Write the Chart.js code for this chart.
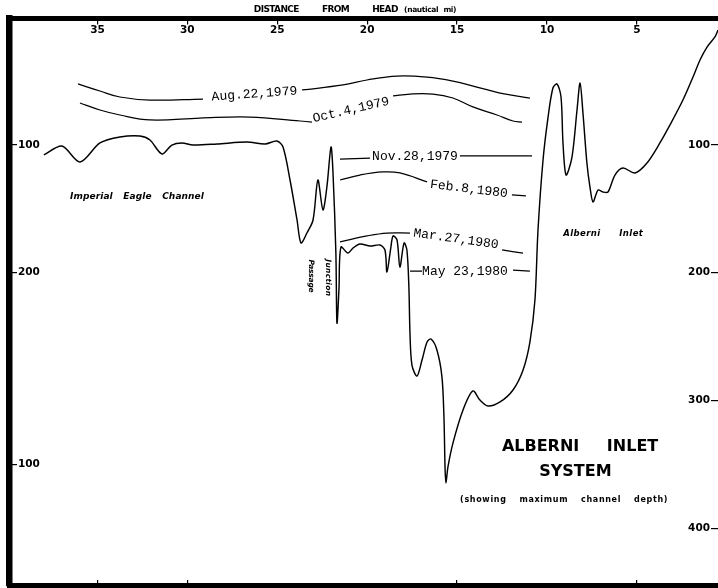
<!DOCTYPE html>
<html>
<head>
<meta charset="utf-8">
<script src="https://cdn.jsdelivr.net/npm/chart.js@4.4.1/dist/chart.umd.min.js"></script>
<style>
html,body{margin:0;padding:0;background:#fff;}
#wrap{width:718px;height:588px;position:relative;}
</style>
</head>
<body>
<div id="wrap"><canvas id="c"></canvas></div>
<script>
// ---- tick labels ----
const xTickValues = [35, 30, 25, 20, 15, 10, 5];
const bottomTickValues = [35, 30, 15, 5];
const leftTickValues = [100, 200, 350];
const leftTickLabels = ['100', '200', '100'];
const rightTickValues = [100, 200, 300, 400];

// ---- maximum channel depth profile (distance from head, nmi / depth) ----
const profileDist = [37.98,36.97,35.97,34.86,33.75,32.64,32.08,31.41,30.86,30.30,29.69,28.35,26.69,25.68,25.02,24.68,24.29,23.90,23.68,23.35,23.01,22.74,22.46,22.24,22.01,21.90,21.74,21.68,21.57,21.46,21.07,20.79,20.40,19.84,19.29,19.01,18.90,18.68,18.56,18.34,18.18,17.95,17.79,17.68,17.62,17.51,17.23,16.95,16.67,16.45,16.12,15.84,15.73,15.67,15.62,15.51,15.23,14.67,14.12,13.73,13.28,12.61,11.89,11.33,10.95,10.67,10.50,10.22,9.94,9.67,9.44,9.22,9.11,8.94,8.61,8.33,8.16,8.00,7.78,7.61,7.44,7.16,6.89,6.61,6.22,5.77,5.11,4.44,3.72,3.16,2.44,1.88,1.49,1.10,0.66,0.49];
const profileDepth = [107.8,100.8,113.3,98.4,93.7,92.9,96.1,107.0,100.0,98.4,100.0,99.2,97.7,99.2,96.9,101.6,127.4,158.7,176.7,168.9,158.7,127.4,150.9,132.9,101.6,121.9,184.6,239.4,213.5,179.9,184.6,180.7,177.5,179.1,178.3,182.2,199.4,179.9,171.2,174.4,195.5,176.7,182.2,211.2,247.2,272.3,280.9,268.4,254.3,251.9,260.5,281.7,313.0,352.2,364.7,352.2,333.4,307.5,292.6,299.7,304.4,301.2,291.8,276.1,254.3,221.4,166.6,111.7,78.1,55.4,52.2,62.4,98.4,123.5,109.4,72.6,51.5,74.9,114.1,132.9,144.6,135.2,136.8,136.8,123.5,118.0,121.9,114.1,98.4,84.3,64.8,46.8,33.4,23.3,15.4,9.9];

// ---- dated lines (null = gap where the date is written) ----
const aug22Dist  = [36.08,34.86,33.75,32.08,29.13,26.4,23.62,21.34,20.01,18.34,16.67,15.23,13.90,12.61,10.95];
const aug22Depth = [52.2,57.7,62.4,64.8,64.0,null,56.9,53.0,49.1,46.0,46.8,49.9,54.6,59.3,63.2];
const oct4Dist   = [35.97,34.86,33.75,32.08,29.30,26.52,23.73,23.07,20.8,18.56,17.62,16.34,15.23,14.12,12.78,11.89,11.39];
const oct4Depth  = [67.1,72.6,76.5,80.4,78.9,78.1,81.2,82.0,null,61.6,60.1,60.1,63.2,70.2,76.5,81.2,82.0];
const nov28Dist  = [21.51,19.84,17.3,14.84,10.83];
const nov28Depth = [111.0,110.2,null,108.6,108.6];
const feb8Dist   = [21.51,20.40,19.12,18.18,16.67,14.3,11.95,11.17];
const feb8Depth  = [127.4,123.5,121.1,121.9,128.9,null,139.1,139.9];
const mar27Dist  = [21.51,20.01,18.90,17.62,15.0,12.50,11.33];
const mar27Depth = [175.9,171.2,168.9,168.9,null,182.2,184.6];
const may23Dist  = [17.62,16.95,14.4,11.89,10.95];
const may23Depth = [198.7,198.7,null,197.9,198.7];

// ---- text annotations ----
const SANS = '"DejaVu Sans"';
const notes = [
  {text:'DISTANCE  FROM  HEAD', d:22.3, z:-5.8, font:'bold 9px '+SANS, w:144, ws:9},
  {text:'(nautical mi)', d:16.5, z:-5.8, font:'bold 7.5px '+SANS, w:52, ws:3},
  {text:'Aug.22,1979', d:26.27, z:60.1, rot:-4, font:'13px "Liberation Mono"'},
  {text:'Oct.4,1979', d:20.90, z:72.6, rot:-13, font:'13px "Liberation Mono"'},
  {text:'Nov.28,1979', d:17.34, z:109.4, rot:0, font:'13px "Liberation Mono"'},
  {text:'Feb.8,1980', d:14.34, z:134.5, rot:7, font:'13px "Liberation Mono"'},
  {text:'Mar.27,1980', d:15.06, z:173.6, rot:8, font:'13px "Liberation Mono"'},
  {text:'May 23,1980', d:14.56, z:198.7, rot:0, font:'13px "Liberation Mono"'},
  {text:'Imperial  Eagle  Channel', d:32.8, z:140.7, font:'italic bold 9px '+SANS, w:134, ws:2},
  {text:'Junction', d:22.2, z:204, rot:90, font:'italic bold 7.5px '+SANS, w:37},
  {text:'Passage', d:23.13, z:202.5, rot:90, font:'italic bold 7.5px '+SANS, w:33},
  {text:'Alberni  Inlet', d:6.87, z:169.7, font:'italic bold 8.5px '+SANS, w:80, ws:6},
  {text:'ALBERNI INLET', d:8.16, z:336.5, font:'bold 16px '+SANS, ws:22},
  {text:'SYSTEM', d:8.42, z:356.1, font:'bold 16px '+SANS},
  {text:'(showing  maximum  channel  depth)', d:9.05, z:378.0, font:'bold 8px '+SANS, w:208, ws:3}
];

function pts(dist, depth){ return dist.map((d,i)=>({x:d, y:depth[i]})); }
function dateLine(dist, depth){
  return {data:pts(dist, depth), borderColor:'#000', borderWidth:1.25, pointRadius:0, tension:0.4, fill:false, spanGaps:false};
}

const notePlugin = {
  id:'notes',
  afterDraw(chart){
    const ctx = chart.ctx, xs = chart.scales.x, ys = chart.scales.y;
    ctx.save();
    ctx.fillStyle = '#000';
    for (const n of notes){
      const px = xs.getPixelForValue(n.d);
      const py = ys.getPixelForValue(n.z);
      ctx.save();
      ctx.font = n.font;
      ctx.letterSpacing = '0px';
      ctx.wordSpacing = (n.ws || 0) + 'px';
      if (n.w){
        const m = ctx.measureText(n.text).width;
        ctx.letterSpacing = ((n.w - m) / n.text.length) + 'px';
      }
      ctx.translate(px, py);
      ctx.rotate((n.rot || 0) * Math.PI / 180);
      ctx.textAlign = 'center';
      ctx.textBaseline = 'middle';
      ctx.fillText(n.text, 0, 0);
      ctx.restore();
    }
    ctx.restore();
  }
};

const X_MIN = 0.49, X_MAX = 39.89, Y_MIN = 0.94, Y_MAX = 445.3;
const tickFont = {family:'DejaVu Sans', weight:'bold', size:10.5};
function noPad(s){ s.paddingTop = 0; s.paddingBottom = 0; s.paddingLeft = 0; s.paddingRight = 0; }

new Chart(document.getElementById('c'), {
  type:'line',
  data:{
    datasets:[
      {data:pts(profileDist, profileDepth), borderColor:'#000', borderWidth:1.45, pointRadius:0, tension:0.3, fill:false},
      dateLine(aug22Dist, aug22Depth),
      dateLine(oct4Dist, oct4Depth),
      dateLine(nov28Dist, nov28Depth),
      dateLine(feb8Dist, feb8Depth),
      dateLine(mar27Dist, mar27Depth),
      dateLine(may23Dist, may23Depth)
    ]
  },
  options:{
    responsive:true, maintainAspectRatio:false, animation:false,
    layout:{padding:0},
    plugins:{legend:{display:false}, tooltip:{enabled:false}},
    scales:{
      x:{
        type:'linear', position:'top', reverse:true, min:X_MIN, max:X_MAX,
        afterFit(s){ s.height = 18.5; noPad(s); },
        afterBuildTicks(s){ s.ticks = xTickValues.map(v=>({value:v})); },
        grid:{drawOnChartArea:false, drawTicks:true, tickLength:-6, color:'#000', lineWidth:1.2},
        border:{display:true, color:'#000', width:5},
        ticks:{color:'#000', font:tickFont, mirror:true, padding:5.3, maxRotation:0, autoSkip:false}
      },
      x2:{
        type:'linear', position:'bottom', reverse:true, min:X_MIN, max:X_MAX,
        afterFit(s){ s.height = 2; noPad(s); },
        afterBuildTicks(s){ s.ticks = bottomTickValues.map(v=>({value:v})); },
        grid:{drawOnChartArea:false, drawTicks:true, tickLength:-6, color:'#000', lineWidth:1.2},
        border:{display:true, color:'#000', width:6},
        ticks:{display:false}
      },
      y:{
        type:'linear', position:'left', reverse:true, min:Y_MIN, max:Y_MAX,
        afterFit(s){ s.width = 9.5; noPad(s); },
        afterBuildTicks(s){ s.ticks = leftTickValues.map(v=>({value:v})); },
        grid:{drawOnChartArea:false, drawTicks:true, tickLength:-7.5, color:'#000', lineWidth:1.2},
        border:{display:true, color:'#000', width:6.5},
        ticks:{color:'#000', font:tickFont, mirror:true, padding:8.5,
          callback(v){ const i = leftTickValues.indexOf(v); return i >= 0 ? leftTickLabels[i] : ''; }}
      },
      yR:{
        type:'linear', position:'right', reverse:true, min:Y_MIN, max:Y_MAX,
        afterFit(s){ s.width = 0; noPad(s); },
        afterBuildTicks(s){ s.ticks = rightTickValues.map(v=>({value:v})); },
        grid:{drawOnChartArea:false, drawTicks:true, tickLength:-7, color:'#000', lineWidth:1.2},
        border:{display:false},
        ticks:{color:'#000', font:tickFont, mirror:true, padding:-8}
      }
    }
  },
  plugins:[notePlugin]
});
</script>
</body>
</html>
